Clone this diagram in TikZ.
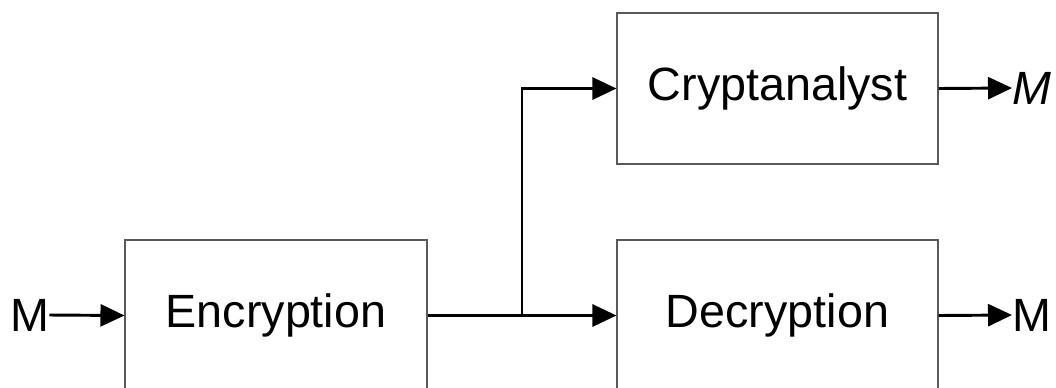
\documentclass[tikz,border=0pt]{standalone}
\usepackage{fontspec}
\setmainfont{Liberation Sans}
\usetikzlibrary{arrows.meta,calc}
\begin{document}
\begin{tikzpicture}[x=0.75pt,y=-0.75pt,
  blockbox/.style={draw=black!65,line width=0.8pt,minimum width=226.5pt,minimum height=113.25pt,inner sep=0pt,font=\fontsize{35}{40}\selectfont},
  lbl/.style={inner sep=0pt,font=\fontsize{35}{40}\selectfont},
  flow/.style={line width=2.2pt,-{Triangle[length=18pt,width=16.5pt]}}]
\useasboundingbox (0,0) rectangle (1056,387);
\clip (0,0) rectangle (1056,387);
% processing blocks
\node[blockbox,minimum width=226.5pt] (enc) at (276,315.5) {Encryption};
\node[blockbox,minimum width=240.75pt] (crypt) at (777.5,88.5) {Cryptanalyst};
\node[blockbox,minimum width=240.75pt] (dec) at (777.5,315.5) {Decryption};
% message labels
\node[lbl,anchor=west] (min) at (10,315) {M};
\node[lbl,anchor=west] (mhat) at (1012,88) {\itshape M};
\node[lbl,anchor=west] (mout) at (1012,315) {M};
% ciphertext branch point
\coordinate (br) at ($(enc.east)!0.5!(dec.west)$);
% connectors
\draw[flow] (min.east) -- (enc.west);
\draw[flow] (enc.east) -- (dec.west);
\draw[flow] (br) |- (crypt.west);
\draw[flow] (crypt.east) -- (mhat.west);
\draw[flow] (dec.east) -- (mout.west);
\end{tikzpicture}
\end{document}
